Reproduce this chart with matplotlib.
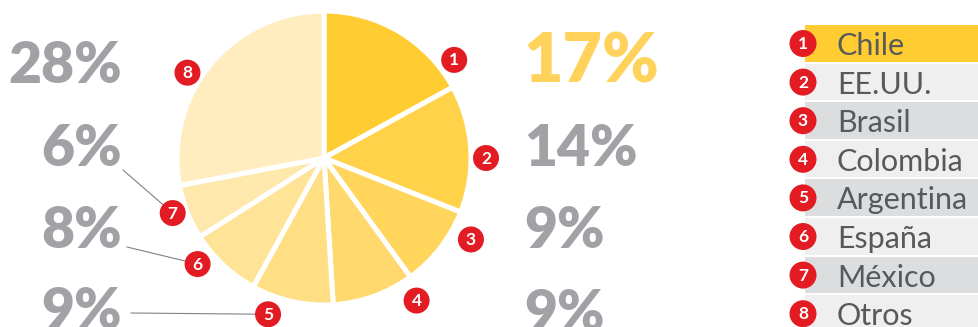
import matplotlib.pyplot as plt
from matplotlib.patches import Circle, Rectangle
import numpy as np

paises = ['Chile', 'EE.UU.', 'Brasil', 'Colombia', 'Argentina', 'España', 'México', 'Otros']
porcentajes = [17, 14, 9, 9, 9, 8, 6, 28]
colores = ['#FFCD32', '#FFD24A', '#FFD55C', '#FFD96D', '#FFDE84', '#FFE396', '#FFE8AC', '#FFEDC0']

W, H = 979, 327
rojo = '#E31B23'
gris = '#A1A2A6'

fig = plt.figure(figsize=(W / 100, H / 100), dpi=100)
ax = fig.add_axes([0, 0, 1, 1])

def py(y):
    # pixel row counted from the top -> data y
    return H - y

# pie
cx, cy, r = 324, py(158), 147
ax.pie(porcentajes, colors=colores, startangle=90, counterclock=False,
       radius=r, center=(cx, cy),
       wedgeprops=dict(edgecolor='white', linewidth=3.6))
ax.set_xlim(0, W)
ax.set_ylim(0, H)
ax.set_aspect('equal')
ax.axis('off')

def badge(x, y, n, rad=13, zorder=5):
    ax.add_patch(Circle((x, y), rad, fc=rojo, ec='none', zorder=zorder))
    ax.text(x, y - 0.5, str(n), color='white', fontsize=12.5, fontweight='bold',
            family='Lato', ha='center', va='center', zorder=zorder + 1)

# numbered badges around the pie
cum = np.cumsum([0] + porcentajes[:-1])
mid = 90 - 3.6 * (cum + np.array(porcentajes) / 2)
ang_off = [-22.4, -3.6, 8.8, 13.2, -7.1, -6.8, -1.6, 7.6]
dist = [163, 162, 168, 170, 166, 165, 161, 161]
badge_xy = []
for i in range(len(porcentajes)):
    a = np.deg2rad(mid[i] + ang_off[i])
    bx, by = cx + dist[i] * np.cos(a), cy + dist[i] * np.sin(a)
    badge_xy.append((bx, by))
    badge(bx, by, i + 1)

# percentage labels
pct = [f'{v}%' for v in porcentajes]
kw = dict(family='Lato', fontweight='heavy', va='baseline')
# right column: Chile .. Colombia
ax.text(524, py(83), pct[0], color='#FFD35B', fontsize=49, ha='left', **kw)
for i, base in zip([1, 2, 3], [166, 248, 331]):
    ax.text(524, py(base), pct[i], color=gris, fontsize=41, ha='left', **kw)
# left column: Otros, México, España, Argentina
for i, base in zip([7, 6, 5, 4], [83, 166, 248, 329]):
    ax.text(122, py(base), pct[i], color=gris, fontsize=41, ha='right', **kw)

# leader lines from the left labels to their badges
for i, (sx, sy) in zip([6, 5, 4], [(123, 170), (127, 247), (131, 313)]):
    bx, by = badge_xy[i]
    ax.plot([sx, bx], [py(sy), by], color='#808285', lw=0.8, zorder=3)

# legend
pitch = 38.6
fondos = ['#FFCD32', '#EFEFEF', '#DCDDDE', '#EFEFEF', '#DCDDDE', '#EFEFEF', '#DCDDDE', '#EFEFEF']
for i, nombre in enumerate(paises):
    top = 25 + i * pitch
    ax.add_patch(Rectangle((805, py(top + 36.5)), W - 805 + 5, 36.5,
                           fc=fondos[i], ec='none', zorder=2))
    badge(803, py(43.5 + i * pitch), i + 1, rad=13.5)
    ax.text(837, py(55 + i * pitch), nombre, color='#58595B', fontsize=22,
            family='Lato', fontweight='normal', ha='left', va='baseline', zorder=4)

fig.savefig('out.png', dpi=100, facecolor='white')
